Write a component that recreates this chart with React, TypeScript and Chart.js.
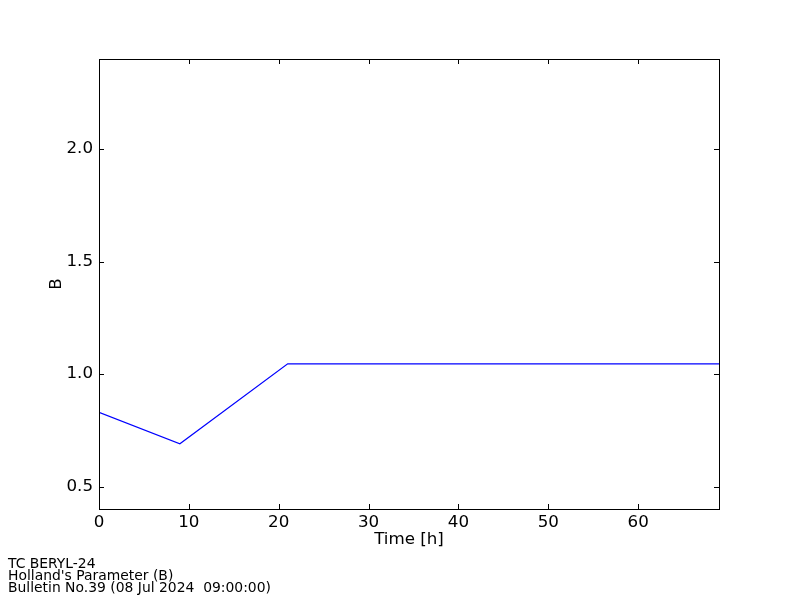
import React, { useEffect, useRef } from "react";
import { Chart, registerables } from "chart.js";

Chart.register(...registerables);

const hours = [0, 9, 21, 69];
const hollandB = [0.83, 0.69, 1.045, 1.045];
const yTicks = [0.5, 1.0, 1.5, 2.0];
const xTicks = [0, 10, 20, 30, 40, 50, 60];
const footerLines = ["TC BERYL-24", "Holland's Parameter (B)", "Bulletin No.39 (08 Jul 2024  09:00:00)"];

const FONT = "'DejaVu Sans', sans-serif";

const frameTicks = {
  id: "frameTicks",
  afterDraw(chart: any) {
    const { ctx, chartArea: a, scales } = chart;
    const len = 5;
    ctx.save();
    ctx.strokeStyle = "#000";
    ctx.lineWidth = 1;
    ctx.beginPath();
    for (const v of yTicks) {
      const y = Math.round(scales.y.getPixelForValue(v)) + 0.5;
      ctx.moveTo(a.left, y);
      ctx.lineTo(a.left + len, y);
      ctx.moveTo(a.right, y);
      ctx.lineTo(a.right - len, y);
    }
    for (const v of xTicks) {
      const x = Math.round(scales.x.getPixelForValue(v)) + 0.5;
      ctx.moveTo(x, a.bottom);
      ctx.lineTo(x, a.bottom - len);
      ctx.moveTo(x, a.top);
      ctx.lineTo(x, a.top + len);
    }
    ctx.stroke();
    ctx.strokeRect(Math.round(a.left) + 0.5, Math.round(a.top) + 0.5, Math.round(a.right - a.left), Math.round(a.bottom - a.top));
    ctx.restore();
  },
};

export default function App() {
  const ref = useRef<HTMLCanvasElement>(null);
  useEffect(() => {
    if (!ref.current) return;
    const chart = new Chart(ref.current, {
      type: "scatter",
      data: {
        datasets: [
          {
            data: hours.map((h, i) => ({ x: h, y: hollandB[i] })),
            showLine: true,
            borderColor: "#0000ff",
            borderWidth: 1.2,
            pointRadius: 0,
            fill: false,
          },
        ],
      },
      options: {
        animation: false,
        responsive: false,
        maintainAspectRatio: false,
        events: [],
        layout: { padding: { left: 47, top: 59, right: 81, bottom: 41 } },
        plugins: { legend: { display: false }, tooltip: { enabled: false }, title: { display: false } },
        scales: {
          x: {
            type: "linear",
            min: 0,
            max: 69,
            afterFit: (s: any) => { s.height = 50; },
            afterBuildTicks: (s: any) => { s.ticks = xTicks.map((v) => ({ value: v })); },
            grid: { display: false, drawTicks: false },
            border: { display: false },
            ticks: { color: "#000", font: { family: FONT, size: 16.7 }, padding: 4, maxRotation: 0, callback: (v: any) => String(v) },
            title: { display: true, text: "Time [h]", color: "#000", font: { family: FONT, size: 16.7 }, padding: { top: 0, bottom: 9 } },
          },
          y: {
            type: "linear",
            min: 0.4,
            max: 2.4,
            afterFit: (s: any) => { s.width = 52; },
            afterBuildTicks: (s: any) => { s.ticks = yTicks.map((v) => ({ value: v })); },
            grid: { display: false, drawTicks: false },
            border: { display: false },
            ticks: { color: "#000", font: { family: FONT, size: 16.7 }, padding: 6, callback: (v: any) => Number(v).toFixed(1) },
            title: { display: true, text: "B", color: "#000", font: { family: FONT, size: 16.7 }, padding: 0 },
          },
        },
      },
      plugins: [frameTicks],
    });
    return () => chart.destroy();
  }, []);
  return (
    <div style={{ position: "absolute", left: 0, top: 0, width: 800, height: 600, background: "#fff" }}>
      <canvas ref={ref} width={800} height={600} style={{ display: "block", width: 800, height: 600 }} />
      <div style={{ position: "absolute", left: 8, top: 557, fontFamily: FONT, fontSize: 13.9, lineHeight: "12px", color: "#000", whiteSpace: "pre" }}>
        {footerLines.map((l, i) => (
          <div key={i}>{l}</div>
        ))}
      </div>
    </div>
  );
}
